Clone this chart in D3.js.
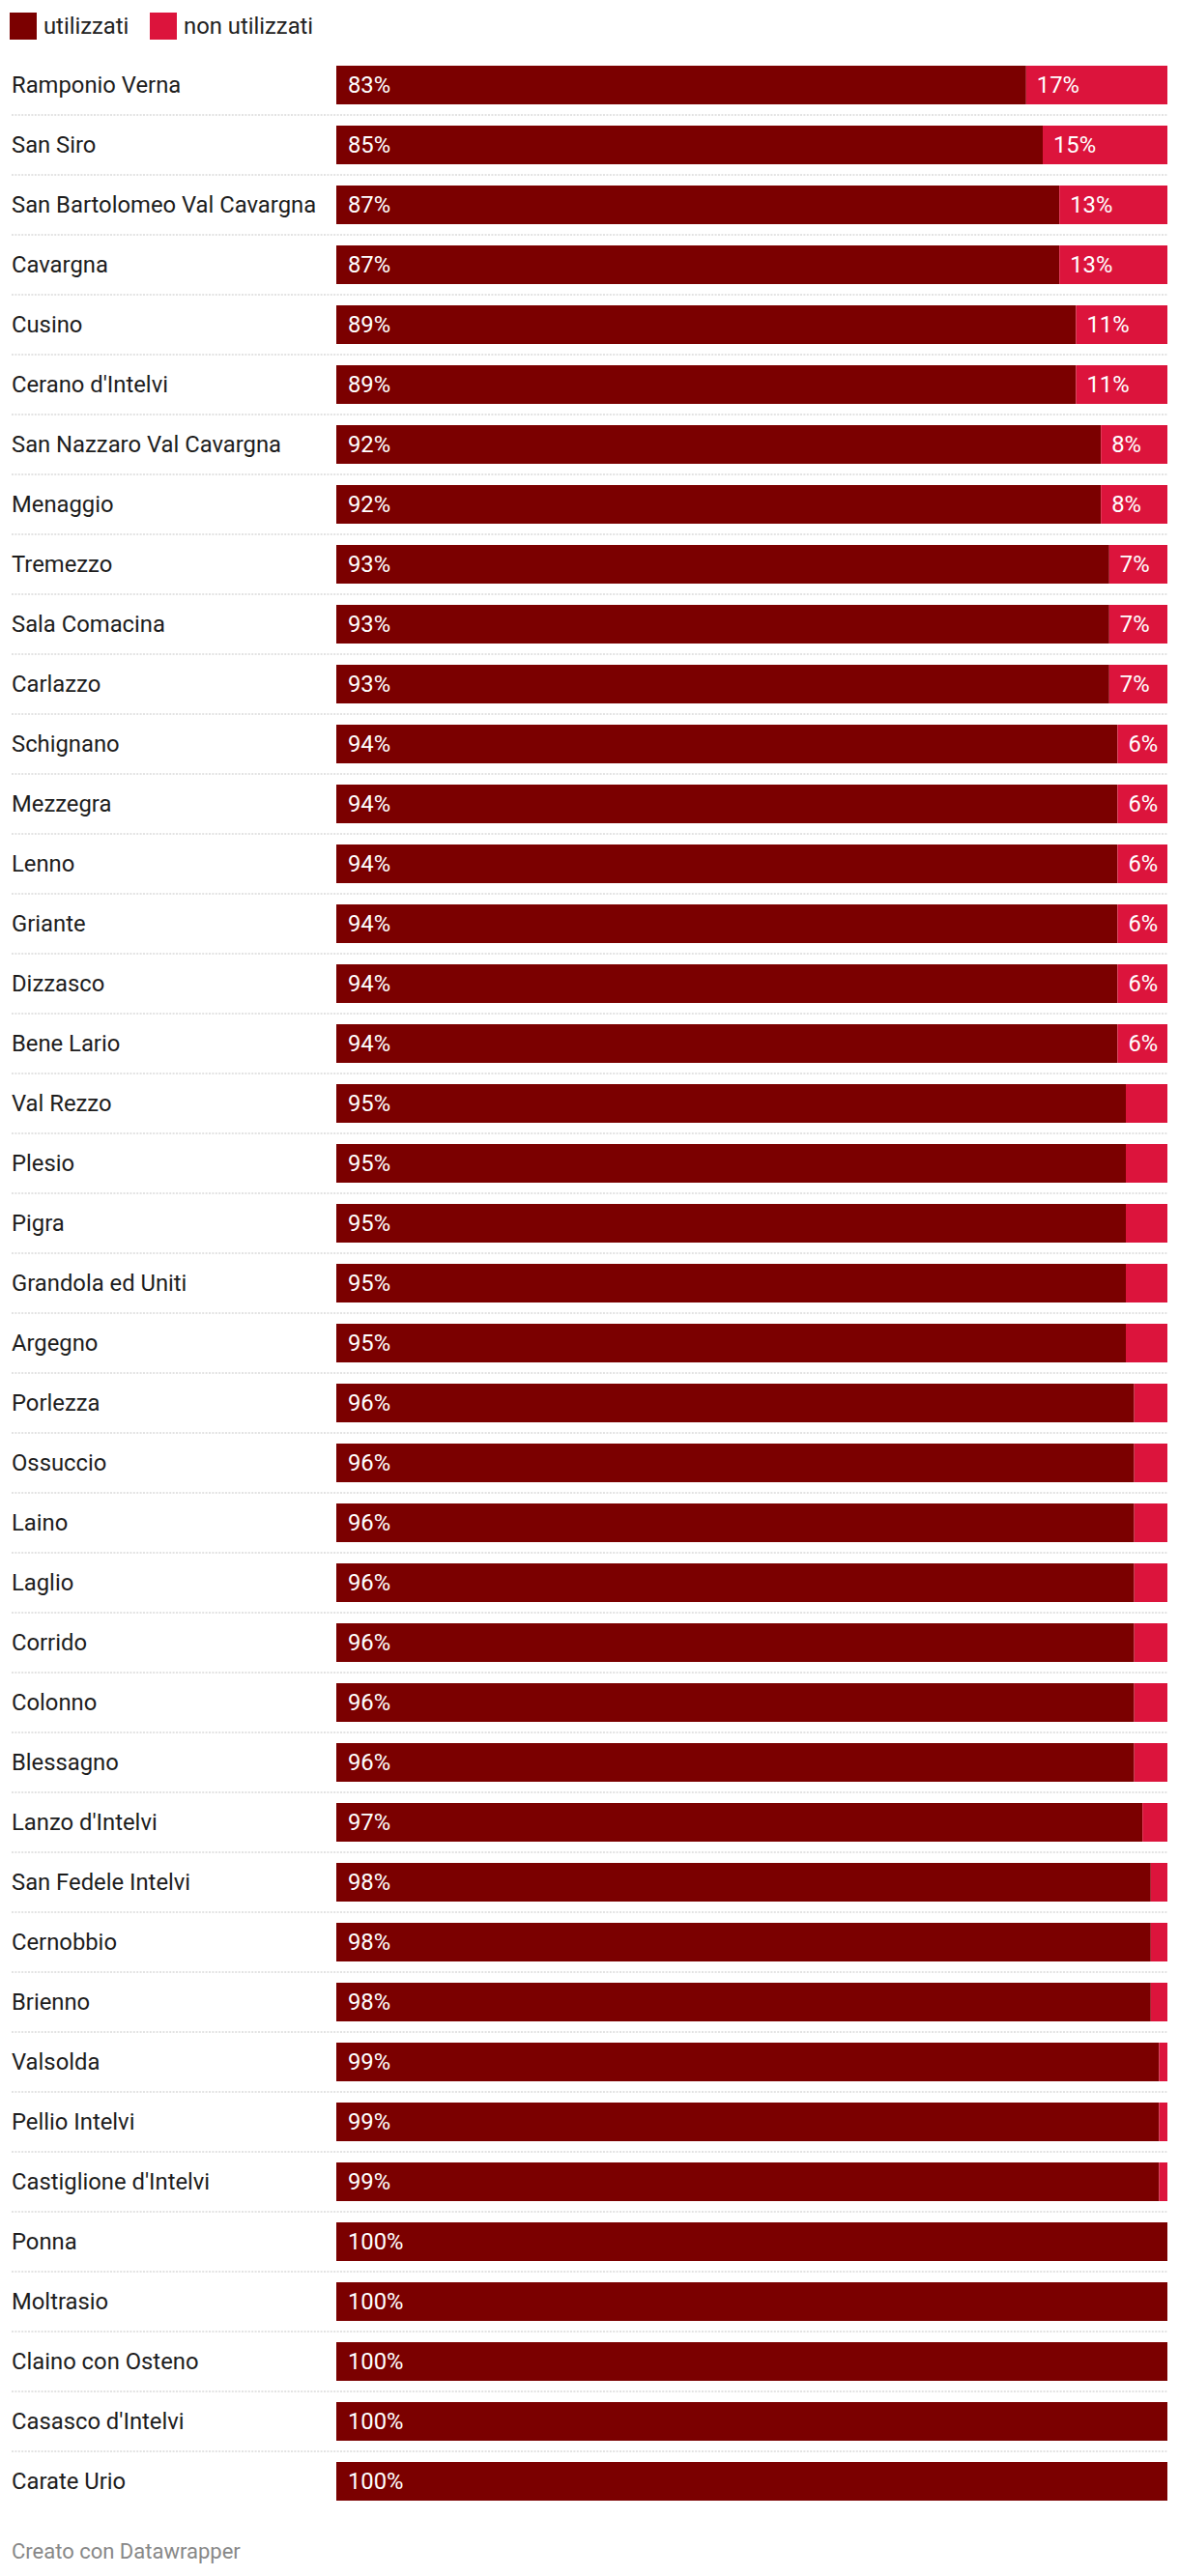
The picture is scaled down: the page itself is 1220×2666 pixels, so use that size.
<!DOCTYPE html>
<html>
<head>
<meta charset="utf-8">
<script src="https://cdn.jsdelivr.net/npm/d3@7"></script>
<style>
  html, body { margin: 0; padding: 0; background: #fff; }
  svg { display: block; font-family: Roboto, "Noto Sans", sans-serif; }
</style>
</head>
<body>
<svg id="chart" width="1220" height="2666"></svg>
<script>
const comuni = [
  "Ramponio Verna", "San Siro", "San Bartolomeo Val Cavargna", "Cavargna", "Cusino",
  "Cerano d'Intelvi", "San Nazzaro Val Cavargna", "Menaggio", "Tremezzo", "Sala Comacina",
  "Carlazzo", "Schignano", "Mezzegra", "Lenno", "Griante", "Dizzasco", "Bene Lario",
  "Val Rezzo", "Plesio", "Pigra", "Grandola ed Uniti", "Argegno", "Porlezza", "Ossuccio",
  "Laino", "Laglio", "Corrido", "Colonno", "Blessagno", "Lanzo d'Intelvi",
  "San Fedele Intelvi", "Cernobbio", "Brienno", "Valsolda", "Pellio Intelvi",
  "Castiglione d'Intelvi", "Ponna", "Moltrasio", "Claino con Osteno", "Casasco d'Intelvi",
  "Carate Urio"
];
const utilizzati = [
  83, 85, 87, 87, 89, 89, 92, 92, 93, 93, 93, 94, 94, 94, 94, 94, 94,
  95, 95, 95, 95, 95, 96, 96, 96, 96, 96, 96, 96, 97, 98, 98, 98, 99, 99, 99,
  100, 100, 100, 100, 100
];
const nonUtilizzati = [
  17, 15, 13, 13, 11, 11, 8, 8, 7, 7, 7, 6, 6, 6, 6, 6, 6,
  5, 5, 5, 5, 5, 4, 4, 4, 4, 4, 4, 4, 3, 2, 2, 2, 1, 1, 1,
  0, 0, 0, 0, 0
];
const seriesNames = ["utilizzati", "non utilizzati"];
const seriesColors = ["#7b0000", "#dc143c"];
const minLabelValue = 6;

const svg = d3.select("#chart");
const FONT = 23.8;

const rows = comuni.map((c, i) => ({ name: c, u: utilizzati[i], n: nonUtilizzati[i] }));

const x = d3.scaleLinear().domain([0, 100]).range([348, 1208]);
const y = d3.scaleBand().domain(comuni).range([57, 2599])
  .paddingInner(22 / 62).paddingOuter(11 / 62);

// Legend
const legend = svg.append("g").attr("class", "legend");
const legendX = [10, 155];
seriesNames.forEach((s, i) => {
  const g = legend.append("g").attr("transform", `translate(${legendX[i]},13)`);
  g.append("rect").attr("width", 28).attr("height", 28).attr("fill", seriesColors[i]);
  g.append("text").attr("x", 35).attr("y", 14).attr("dy", "0.35em")
    .attr("font-size", FONT).attr("fill", "#222").text(s);
});

// separators (dotted)
const sep = svg.append("g");
comuni.slice(0, -1).forEach((c) => {
  const yy = y(c) + y.bandwidth() + (y.step() - y.bandwidth()) / 2;
  sep.append("line").attr("x1", 12).attr("x2", x(100))
    .attr("y1", yy).attr("y2", yy)
    .attr("stroke", "#dadada").attr("stroke-width", 1.7)
    .attr("stroke-dasharray", "2,1.4");
});

// row labels
svg.append("g").selectAll("text").data(rows).join("text")
  .attr("x", 12)
  .attr("y", d => y(d.name) + y.bandwidth() / 2)
  .attr("dy", "0.35em")
  .attr("font-size", FONT).attr("fill", "#1d1d1d")
  .text(d => d.name);

// bars
const bars = svg.append("g");
bars.selectAll("rect.u").data(rows).join("rect").attr("class", "u")
  .attr("x", x(0)).attr("y", d => y(d.name))
  .attr("width", d => x(d.u) - x(0)).attr("height", y.bandwidth())
  .attr("fill", seriesColors[0]);
bars.selectAll("rect.n").data(rows.filter(d => d.n > 0)).join("rect").attr("class", "n")
  .attr("x", d => x(d.u)).attr("y", d => y(d.name))
  .attr("width", d => x(d.u + d.n) - x(d.u)).attr("height", y.bandwidth())
  .attr("fill", seriesColors[1]);

// value labels
bars.selectAll("text.ul").data(rows).join("text").attr("class", "ul")
  .attr("x", x(0) + 12).attr("y", d => y(d.name) + y.bandwidth() / 2)
  .attr("dy", "0.35em").attr("font-size", FONT).attr("fill", "#fff")
  .text(d => d.u + "%");
bars.selectAll("text.nl").data(rows.filter(d => d.n >= minLabelValue)).join("text").attr("class", "nl")
  .attr("x", d => x(d.u) + 11).attr("y", d => y(d.name) + y.bandwidth() / 2)
  .attr("dy", "0.35em").attr("font-size", FONT).attr("fill", "#fff")
  .text(d => d.n + "%");

// footer
svg.append("text").attr("x", 12).attr("y", 2640).attr("dy", "0.35em")
  .attr("font-size", 22).attr("fill", "#888").text("Creato con Datawrapper");
</script>
</body>
</html>
